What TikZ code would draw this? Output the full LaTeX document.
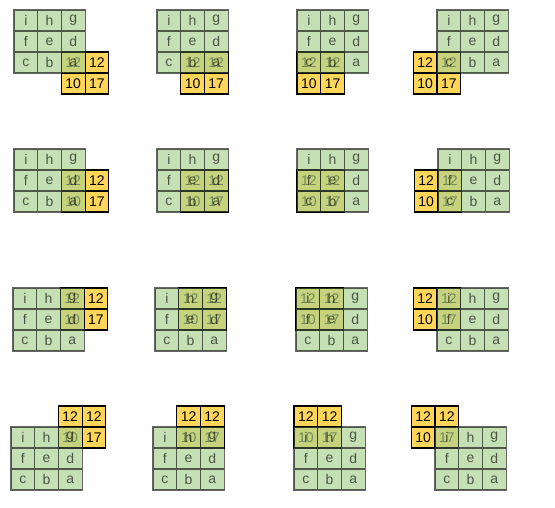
\documentclass[tikz,border=0pt]{standalone}
\usepackage{fontspec}
\setmainfont{Liberation Sans}
\definecolor{kyellow}{HTML}{FFD65A}
\definecolor{ggreen}{HTML}{A9D08E}
\def\cw{23.7}
\def\ch{21}
\tikzset{
  kcell/.style={draw=black, fill=kyellow, line width=1.2pt, minimum width=\cw pt, minimum height=\ch pt,
    inner sep=0pt, outer sep=0pt, font=\fontsize{14}{14}\selectfont, text=black},
  gcell/.style={draw=none, fill=ggreen, fill opacity=0.66, text opacity=0.62, text=black,
    minimum width=\cw pt, minimum height=\ch pt, inner sep=0pt, outer sep=0pt,
    font=\fontsize{14}{14}\selectfont},
  gline/.style={draw=black, draw opacity=0.6, line width=1.2pt}
}
\newcommand\panel[5]{%
  \begin{scope}[shift={(#2,-#3)}]
    \node[kcell] (#1k1) at ({(#4+0.5)*\cw},{-(#5+0.5)*\ch}) {12};
    \node[kcell] (#1k2) at ({(#4+1.5)*\cw},{-(#5+0.5)*\ch}) {12};
    \node[kcell] (#1k3) at ({(#4+0.5)*\cw},{-(#5+1.5)*\ch}) {10};
    \node[kcell] (#1k4) at ({(#4+1.5)*\cw},{-(#5+1.5)*\ch}) {17};
    \foreach \t [count=\n from 0] in {i,h,g,f,e,d,c,b,a}{
      \pgfmathtruncatemacro\cc{mod(\n,3)}
      \pgfmathtruncatemacro\rr{div(\n,3)}
      \node[gcell] (#1g\n) at ({(\cc+0.5)*\cw},{-(\rr+0.5)*\ch}) {\t};
    }
    \draw[gline] (#1g0.north west) rectangle (#1g8.south east)
      (#1g0.north east) -- (#1g6.south east)
      (#1g1.north east) -- (#1g7.south east)
      (#1g0.south west) -- (#1g2.south east)
      (#1g3.south west) -- (#1g5.south east);
  \end{scope}}
\begin{document}
\begin{tikzpicture}[x=1pt,y=1pt]
\useasboundingbox (0,0) rectangle (555,-507);
% row 1
\panel{a}{14}{10}{2}{2}
\panel{b}{157}{10}{1}{2}
\panel{c}{297}{10}{0}{2}
\panel{d}{437}{10}{-1}{2}
% row 2
\panel{e}{14}{149}{2}{1}
\panel{f}{157}{149}{1}{1}
\panel{g}{297}{149}{0}{1}
\panel{h}{438}{149}{-1}{1}
% row 3
\panel{i}{13}{288}{2}{0}
\panel{j}{155}{288}{1}{0}
\panel{k}{296}{288}{0}{0}
\panel{l}{437}{288}{-1}{0}
% row 4
\panel{m}{11}{427}{2}{-1}
\panel{n}{153}{427}{1}{-1}
\panel{o}{294}{427}{0}{-1}
\panel{p}{435}{427}{-1}{-1}
\end{tikzpicture}
\end{document}
